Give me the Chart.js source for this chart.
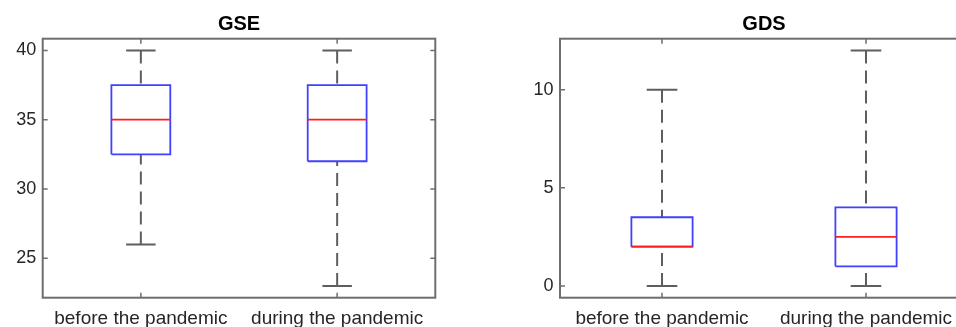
<!DOCTYPE html>
<html><head><meta charset="utf-8">
<script src="https://cdn.jsdelivr.net/npm/chart.js@4.4.1/dist/chart.umd.min.js"></script>
<style>
html,body{margin:0;padding:0;background:#fff;overflow:hidden;width:956px;height:327px;}
#wrapL{position:absolute;left:0;top:0;width:478px;height:327px;}
#wrapR{position:absolute;left:478px;top:0;width:520px;height:327px;}
canvas{display:block;}
</style></head><body>
<div id="wrapL"><canvas id="cL" width="478" height="327"></canvas></div>
<div id="wrapR"><canvas id="cR" width="520" height="327"></canvas></div>
<script>
// ---- data ----
const categories = ['before the pandemic', 'during the pandemic'];

const gseMin    = [26, 23];
const gseQ1     = [32.5, 32];
const gseMedian = [35, 35];
const gseQ3     = [37.5, 37.5];
const gseMax    = [40, 40];
const gseTicks  = [25, 30, 35, 40];

const gdsMin    = [0, 0];
const gdsQ1     = [2, 1];
const gdsMedian = [2, 2.5];
const gdsQ3     = [3.5, 4];
const gdsMax    = [10, 12];
const gdsTicks  = [0, 5, 10];

// ---- styles ----
const FONT = "'Liberation Sans', Arial, sans-serif";
const TEXT = '#262626';
const FRAME = '#6e6e6e';
const WHISK = '#5e5e5e';
const BOXC = 'rgb(64,64,255)';
const MEDC = 'rgb(255,30,30)';
const BOX_HALF = 0.15;
const CAP_HALF = 0.075;

function seg(points, color, width, dash, order) {
  return {
    data: points, showLine: true, borderColor: color, borderWidth: width,
    borderDash: dash || [], pointRadius: 0, pointHoverRadius: 0, fill: false,
    tension: 0, borderCapStyle: 'butt', borderJoinStyle: 'miter', order: order
  };
}

function boxDatasets(minV, q1, med, q3, maxV) {
  const ds = [];
  categories.forEach((c, i) => {
    const x = i + 1;
    ds.push(seg([{x: x, y: maxV[i]}, {x: x, y: q3[i]}], WHISK, 2, [13, 7], 3));
    ds.push(seg([{x: x, y: minV[i]}, {x: x, y: q1[i]}], WHISK, 2, [13, 7], 3));
    ds.push(seg([{x: x - CAP_HALF, y: maxV[i]}, {x: x + CAP_HALF, y: maxV[i]}], WHISK, 2, null, 3));
    ds.push(seg([{x: x - CAP_HALF, y: minV[i]}, {x: x + CAP_HALF, y: minV[i]}], WHISK, 2, null, 3));
    ds.push(seg([{x: x - BOX_HALF, y: q1[i]}, {x: x + BOX_HALF, y: q1[i]}, {x: x + BOX_HALF, y: q3[i]},
                 {x: x - BOX_HALF, y: q3[i]}, {x: x - BOX_HALF, y: q1[i]}], BOXC, 1.8, null, 2));
    ds.push(seg([{x: x - BOX_HALF, y: med[i]}, {x: x + BOX_HALF, y: med[i]}], MEDC, 1.8, null, 1));
  });
  return ds;
}

const framePlugin = {
  id: 'frame',
  afterDraw(chart) {
    const {ctx, chartArea: a, scales: {x, y}} = chart;
    ctx.save();
    ctx.strokeStyle = FRAME;
    ctx.lineWidth = 2;
    ctx.strokeRect(a.left, a.top, a.right - a.left, a.bottom - a.top);
    ctx.beginPath();
    const TL = 5;
    y.ticks.forEach(t => {
      const p = y.getPixelForValue(t.value);
      ctx.moveTo(a.left, p); ctx.lineTo(a.left + TL, p);
      ctx.moveTo(a.right, p); ctx.lineTo(a.right - TL, p);
    });
    x.ticks.forEach(t => {
      const p = x.getPixelForValue(t.value);
      ctx.moveTo(p, a.top); ctx.lineTo(p, a.top + TL);
      ctx.moveTo(p, a.bottom); ctx.lineTo(p, a.bottom - TL);
    });
    ctx.lineWidth = 1.5;
    ctx.stroke();
    ctx.restore();
  }
};

function makeChart(id, title, minV, q1, med, q3, maxV, yTicks, yAxisWidth, padRight) {
  const lo = Math.min(...minV), hi = Math.max(...maxV);
  const pad = (hi - lo) * 0.05;
  return new Chart(document.getElementById(id), {
    type: 'scatter',
    data: {datasets: boxDatasets(minV, q1, med, q3, maxV)},
    plugins: [framePlugin],
    options: {
      responsive: false, animation: false, events: [],
      layout: {padding: {left: 0, right: padRight, top: 0, bottom: 0}},
      plugins: {
        legend: {display: false}, tooltip: {enabled: false},
        title: {display: true, text: title, fullSize: false, color: '#000',
                font: {family: FONT, size: 20, weight: 'bold'}, padding: {top: 12, bottom: 2.7}}
      },
      scales: {
        x: {
          type: 'linear', min: 0.5, max: 2.5,
          afterBuildTicks: s => { s.ticks = categories.map((c, i) => ({value: i + 1})); },
          ticks: {callback: (v, i) => categories[i], color: TEXT, font: {family: FONT, size: 19},
                  padding: 9.3, maxRotation: 0, autoSkip: false},
          grid: {display: false, drawTicks: false}, border: {display: false},
          afterFit: s => { s.height = 29.3; }
        },
        y: {
          type: 'linear', min: lo - pad, max: hi + pad,
          afterBuildTicks: s => { s.ticks = yTicks.map(v => ({value: v})); },
          ticks: {color: TEXT, font: {family: FONT, size: 18}, padding: 6.5},
          grid: {display: false, drawTicks: false}, border: {display: false},
          afterFit: s => { s.width = yAxisWidth; }
        }
      }
    }
  });
}

makeChart('cL', 'GSE', gseMin, gseQ1, gseMedian, gseQ3, gseMax, gseTicks, 42.7, 42.7);
makeChart('cR', 'GDS', gdsMin, gdsQ1, gdsMedian, gdsQ3, gdsMax, gdsTicks, 82, 30);
</script>
</body></html>
